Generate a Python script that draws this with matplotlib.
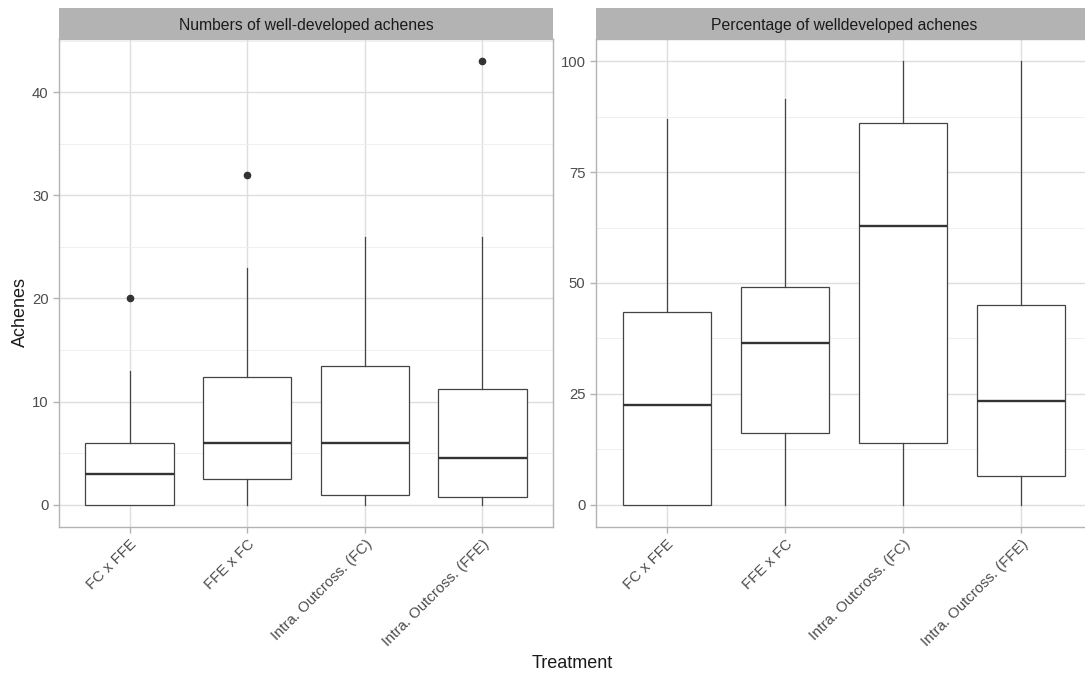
import matplotlib
matplotlib.use("Agg")
import matplotlib.pyplot as plt
from matplotlib.patches import Rectangle

plt.rcParams['font.family'] = ['Liberation Sans', 'DejaVu Sans']

categories = ["FC x FFE", "FFE x FC", "Intra. Outcross. (FC)", "Intra. Outcross. (FFE)"]

# Numbers of well-developed achenes
num_low = [0, 0, 0, 0]
num_q1 = [0, 2.5, 1.0, 0.75]
num_med = [3.0, 6.0, 6.0, 4.5]
num_q3 = [6.0, 12.4, 13.5, 11.2]
num_high = [13, 23, 26, 26]
num_out = [[20], [32], [], [43]]

# Percentage of well-developed achenes
pct_low = [0, 0, 0, 0]
pct_q1 = [0, 16.2, 14.0, 6.4]
pct_med = [22.4, 36.5, 62.8, 23.3]
pct_q3 = [43.5, 49.2, 86.0, 45.0]
pct_high = [87.0, 91.5, 100, 100]
pct_out = [[], [], [], []]

W, H = 1085, 679
fig = plt.figure(figsize=(W / 100, H / 100), dpi=100)
fig.patch.set_facecolor("white")


def px_axes(x0, y0, x1, y1):
    return fig.add_axes([x0 / W, 1 - y1 / H, (x1 - x0) / W, (y1 - y0) / H])


def stats_for(lo, q1, med, q3, hi, out):
    return [dict(whislo=a, q1=b, med=c, q3=d, whishi=e, fliers=f, label=lab)
            for a, b, c, d, e, f, lab in zip(lo, q1, med, q3, hi, out, categories)]


def panel(x0, x1, title, stats, ylim, major, minor):
    y0, y1 = 39, 527
    ax = px_axes(x0, y0, x1, y1)
    positions = list(range(1, len(categories) + 1))
    ax.bxp(stats, positions=positions, widths=0.75, showcaps=False,
           patch_artist=True, manage_ticks=False,
           boxprops=dict(facecolor="white", edgecolor="#444444", linewidth=0.9),
           whiskerprops=dict(color="#444444", linewidth=0.9),
           medianprops=dict(color="#333333", linewidth=1.7),
           flierprops=dict(marker="o", markerfacecolor="#333333",
                           markeredgecolor="#333333", markersize=4.5))
    ax.set_xlim(0.4, 4.6)
    ax.set_ylim(*ylim)
    ax.set_yticks(major)
    ax.set_yticks(minor, minor=True)
    ax.set_xticks(positions)
    ax.set_xticklabels(categories, rotation=45, ha="right", va="top",
                       rotation_mode="anchor")
    ax.grid(True, which="major", color="#DEDEDE", linewidth=1.0, zorder=0)
    ax.grid(True, which="minor", axis="y", color="#EDEDED", linewidth=0.6, zorder=0)
    ax.set_axisbelow(True)
    for s in ax.spines.values():
        s.set_color("#B3B3B3")
        s.set_linewidth(1.0)
    ax.tick_params(axis="both", which="major", color="#B3B3B3", length=4,
                   width=1.0, labelsize=10.7, labelcolor="#4D4D4D")
    ax.tick_params(axis="y", which="minor", length=0)
    # facet strip
    sx = px_axes(x0, 8, x1, 39)
    sx.set_xlim(0, 1)
    sx.set_ylim(0, 1)
    sx.axis("off")
    sx.add_patch(Rectangle((0, 0), 1, 1, facecolor="#B3B3B3", edgecolor="none",
                           transform=sx.transAxes, clip_on=False))
    sx.text(0.5, 0.43, title, ha="center", va="center", fontsize=11.3,
            color="#1A1A1A")
    return ax


ax1 = panel(59, 553, "Numbers of well-developed achenes",
            stats_for(num_low, num_q1, num_med, num_q3, num_high, num_out),
            (-2.15, 45.15), [0, 10, 20, 30, 40], [5, 15, 25, 35, 45])
ax2 = panel(596, 1092, "Percentage of welldeveloped achenes",
            stats_for(pct_low, pct_q1, pct_med, pct_q3, pct_high, pct_out),
            (-5, 105), [0, 25, 50, 75, 100], [12.5, 37.5, 62.5, 87.5])

fig.text(20 / W, 1 - 312 / H, "Achenes", rotation=90, ha="center", va="center",
         fontsize=13, color="#1A1A1A")
fig.text(572 / W, 1 - 663 / H, "Treatment", ha="center", va="center",
         fontsize=13, color="#1A1A1A")

fig.savefig("out.png", dpi=100, facecolor="white")
